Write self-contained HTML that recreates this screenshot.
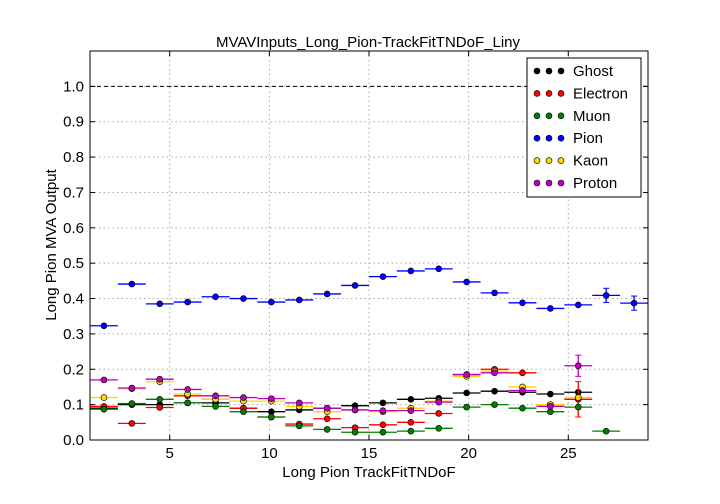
<!DOCTYPE html>
<html><head><meta charset="utf-8"><style>
body{margin:0;background:#fff;}
svg{display:block;font-family:"Liberation Sans","DejaVu Sans",sans-serif;}
</style></head><body>
<svg id="chart" width="720" height="504" viewBox="0 0 720 504">
<rect width="720" height="504" fill="#fff"/>
<text x="368" y="47" text-anchor="middle" font-size="15">MVAVInputs_Long_Pion-TrackFitTNDoF_Liny</text>
<g id="grid"></g>
<g id="marks"></g>
<rect x="90" y="51" width="558" height="389" fill="none" stroke="#000" stroke-width="1"/>
<g id="axes"></g>
<text x="369" y="477" text-anchor="middle" font-size="15">Long Pion TrackFitTNDoF</text>
<text transform="translate(56,245) rotate(-90)" text-anchor="middle" font-size="15">Long Pion MVA Output</text>
<g id="legend"></g>
</svg>
<script>
const binCenters=[1.7,3.1,4.5,5.9,7.3,8.7,10.1,11.5,12.9,14.3,15.7,17.1,18.5,19.9,21.3,22.7,24.1,25.5,26.9,28.3];
const binWidth=1.4;
const seriesNames=["Ghost","Electron","Muon","Pion","Kaon","Proton"];
const seriesColors=["#000000","#ff0000","#008000","#0000ff","#ffd700","#bf00bf"];
const ghostVals=[0.09,0.10,0.10,0.105,0.105,0.09,0.08,0.085,0.09,0.097,0.105,0.115,0.118,0.133,0.138,0.135,0.13,0.135,null,null];
const electronVals=[0.095,0.047,0.092,0.125,0.115,0.09,0.065,0.045,0.06,0.035,0.043,0.05,0.075,0.185,0.20,0.19,0.10,0.115,null,null];
const muonVals=[0.087,0.103,0.115,0.105,0.095,0.08,0.065,0.04,0.03,0.022,0.022,0.025,0.033,0.093,0.10,0.09,0.08,0.093,0.025,null];
const pionVals=[0.323,0.441,0.385,0.390,0.405,0.400,0.390,0.396,0.413,0.437,0.462,0.478,0.484,0.447,0.416,0.388,0.372,0.382,0.409,0.387];
const kaonVals=[0.12,0.145,0.165,0.13,0.115,0.11,0.11,0.095,0.08,0.085,0.08,0.09,0.11,0.18,0.195,0.15,0.10,0.12,null,null];
const protonVals=[0.17,0.147,0.172,0.143,0.125,0.12,0.117,0.105,0.09,0.085,0.083,0.083,0.107,0.185,0.19,0.14,0.095,0.21,null,null];
const electronErr=[0,0,0,0,0,0,0,0,0,0,0,0,0,0,0,0,0.005,0.05,0,0];
const pionErr=[0,0,0,0,0,0,0,0,0,0,0,0,0,0,0,0,0,0,0.02,0.02];
const protonErr=[0,0,0,0,0,0,0,0,0,0,0,0,0,0,0,0,0,0.03,0,0];
const xTicks=[5,10,15,20,25];
const yTicks=[0,0.1,0.2,0.3,0.4,0.5,0.6,0.7,0.8,0.9,1.0];
const allVals=[ghostVals,electronVals,muonVals,pionVals,kaonVals,protonVals];
const allErr=[null,electronErr,null,pionErr,null,protonErr];
const NS="http://www.w3.org/2000/svg";
const X0=90,X1=648,Y0=440,Y1=51,XMIN=1,XMAX=29,YMIN=0,YMAX=1.1;
function xs(v){return X0+(v-XMIN)/(XMAX-XMIN)*(X1-X0);}
function ys(v){return Y0-(v-YMIN)/(YMAX-YMIN)*(Y0-Y1);}
function mk(tag,attrs,parent){const e=document.createElementNS(NS,tag);for(const k in attrs)e.setAttribute(k,attrs[k]);parent.appendChild(e);return e;}
const grid=document.getElementById('grid'),axes=document.getElementById('axes'),marks=document.getElementById('marks'),legend=document.getElementById('legend');
xTicks.forEach(t=>{const x=xs(t);
 const g=mk('line',{x1:x,x2:x,y1:Y1,y2:Y0,stroke:'#aaa','stroke-dasharray':'1.5,3'},grid);
 
 mk('line',{x1:x,x2:x,y1:Y0,y2:Y0-5,stroke:'#000'},axes);mk('line',{x1:x,x2:x,y1:Y1,y2:Y1+5,stroke:'#000'},axes);
 const tx=mk('text',{x:x,y:Y0+18,'text-anchor':'middle','font-size':15},axes);tx.textContent=t;
 });
yTicks.forEach(t=>{const y=ys(t);
 const g=mk('line',{x1:X0,x2:X1,y1:y,y2:y,stroke:'#aaa','stroke-dasharray':'1.5,3'},grid);
 
 mk('line',{x1:X0,x2:X0+5,y1:y,y2:y,stroke:'#000'},axes);mk('line',{x1:X1,x2:X1-5,y1:y,y2:y,stroke:'#000'},axes);
 const tx=mk('text',{x:X0-6,y:y+5,'text-anchor':'end','font-size':15},axes);tx.textContent=t.toFixed(1);
 });
const ref=mk('line',{x1:X0,x2:X1,y1:ys(1),y2:ys(1),stroke:'#000','stroke-dasharray':'4,3'},grid);

allVals.forEach((vals,si)=>{const c=seriesColors[si];const errs=allErr[si];
 const g=mk('g',{},marks);
 
 vals.forEach((v,i)=>{if(v===null)return;const cx=xs(binCenters[i]),cy=ys(v);
  mk('line',{x1:xs(binCenters[i]-binWidth/2),x2:xs(binCenters[i]+binWidth/2),y1:cy,y2:cy,stroke:c,'stroke-width':1.3},g);
  if(errs&&errs[i]>0){const e=errs[i];
   mk('line',{x1:cx,x2:cx,y1:ys(v-e),y2:ys(v+e),stroke:c,'stroke-width':1.3},g);
   mk('line',{x1:cx-3,x2:cx+3,y1:ys(v-e),y2:ys(v-e),stroke:c},g);
   mk('line',{x1:cx-3,x2:cx+3,y1:ys(v+e),y2:ys(v+e),stroke:c},g);}
  const p=mk('circle',{cx:cx,cy:cy,r:3,fill:c,stroke:'#000','stroke-width':0.6},g);
  });});
mk('rect',{x:527,y:58,width:114,height:139,fill:'#fff',stroke:'#000'},legend);
seriesNames.forEach((n,i)=>{const y=71+i*22.4;
 const e=mk('g',{},legend);
 
 [537,549,561].forEach(x=>mk('circle',{cx:x,cy:y,r:3,fill:seriesColors[i],stroke:'#000','stroke-width':0.6},e));
 const t=mk('text',{x:573,y:y+5,'font-size':15},e);t.textContent=n;});
</script>
</body></html>
